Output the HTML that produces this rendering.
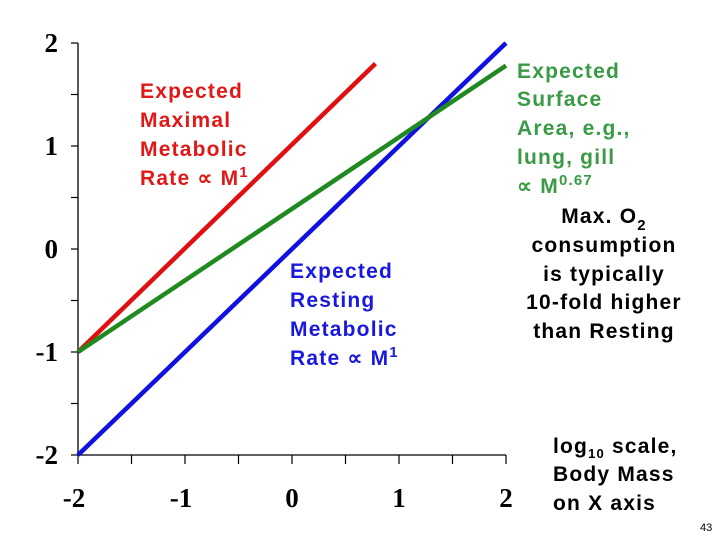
<!DOCTYPE html>
<html><head><meta charset="utf-8"><style>
body{margin:0;background:#fff;width:720px;height:540px;overflow:hidden}
svg text{font-family:"Liberation Sans",Arial,sans-serif;font-weight:bold}
.lbl text{letter-spacing:1.2px}
.tk{font-family:"Liberation Serif","Times New Roman",serif;font-size:27px;font-weight:bold}
</style></head><body>
<svg id="chart" width="720" height="540" viewBox="0 0 720 540" xmlns="http://www.w3.org/2000/svg">
<g id="axes"></g><g id="lines"></g>
<g class="lbl" fill="#e01818" font-size="21">
<text x="140" y="98">Expected</text><text x="140" y="127">Maximal</text><text x="140" y="156">Metabolic</text><text x="140" y="185">Rate ∝ M<tspan font-size="15" dy="-8">1</tspan></text></g>
<g class="lbl" fill="#1818e0" font-size="21">
<text x="290" y="278">Expected</text><text x="290" y="307">Resting</text><text x="290" y="336">Metabolic</text><text x="290" y="365">Rate ∝ M<tspan font-size="15" dy="-8">1</tspan></text></g>
<g class="lbl" fill="#3a9a45" font-size="21">
<text x="517" y="78">Expected</text><text x="517" y="106">Surface</text><text x="517" y="135">Area, e.g.,</text><text x="517" y="164">lung, gill</text><text x="517" y="193">∝ M<tspan font-size="15" dy="-8">0.67</tspan></text></g>
<g class="lbl" fill="#000" font-size="21" text-anchor="middle">
<text x="604" y="223">Max. O<tspan font-size="15" dy="7">2</tspan></text><text x="604" y="252">consumption</text><text x="604" y="281">is typically</text><text x="604" y="309">10-fold higher</text><text x="604" y="338">than Resting</text></g>
<g class="lbl" fill="#000" font-size="21">
<text x="553" y="453">log<tspan font-size="13" dy="5">10</tspan><tspan dy="-5"> scale,</tspan></text><text x="553" y="481">Body Mass</text><text x="553" y="510">on X axis</text></g>
<text x="700" y="531" font-size="11" style="font-weight:normal">43</text>
</svg>
<script>
const xTicks=[-2,-1,0,1,2];
const yTicks=[-2,-1,0,1,2];
const seriesNames=["maximal","resting","surface"];
const seriesX=[[-2,0.78],[-2,2],[-2,2]];
const seriesY=[[-1,1.8],[-2,2],[-1,1.78]];
const colors=["#e01010","#1010e0","#208a20"];
const X=v=>78+(v+2)*107;
const Y=v=>455-(v+2)*103;
const NS="http://www.w3.org/2000/svg";
const ax=document.getElementById('axes'),ln=document.getElementById('lines');
function mk(t,a,p){const e=document.createElementNS(NS,t);for(const k in a)e.setAttribute(k,a[k]);p.appendChild(e);return e;}
let e=mk('line',{x1:X(-2),y1:Y(2),x2:X(-2),y2:Y(-2),stroke:'#000','stroke-width':1.3},ax);


e=mk('line',{x1:X(-2),y1:Y(-2),x2:X(2),y2:Y(-2),stroke:'#000','stroke-width':1.3},ax);


for(let i=-4;i<=4;i++){const v=i/2;
 let t=mk('line',{x1:X(-2)-7,y1:Y(v),x2:X(-2),y2:Y(v),stroke:'#000','stroke-width':1.2},ax);
 
 
 t=mk('line',{x1:X(v),y1:Y(-2),x2:X(v),y2:Y(-2)+9,stroke:'#000','stroke-width':1.2},ax);
 
 }
yTicks.forEach(v=>{const t=mk('text',{x:58,y:Y(v)+9,'text-anchor':'end',class:'tk'},ax);t.textContent=v;
 
 });
xTicks.forEach(v=>{const t=mk('text',{x:X(v)-(v<0?4:0),y:507,'text-anchor':'middle',class:'tk'},ax);t.textContent=v;
 
 });
seriesNames.forEach((n,i)=>{const l=mk('line',{x1:X(seriesX[i][0]),y1:Y(seriesY[i][0]),x2:X(seriesX[i][1]),y2:Y(seriesY[i][1]),stroke:colors[i],'stroke-width':4.5},ln);
 
 });
</script>
</body></html>
